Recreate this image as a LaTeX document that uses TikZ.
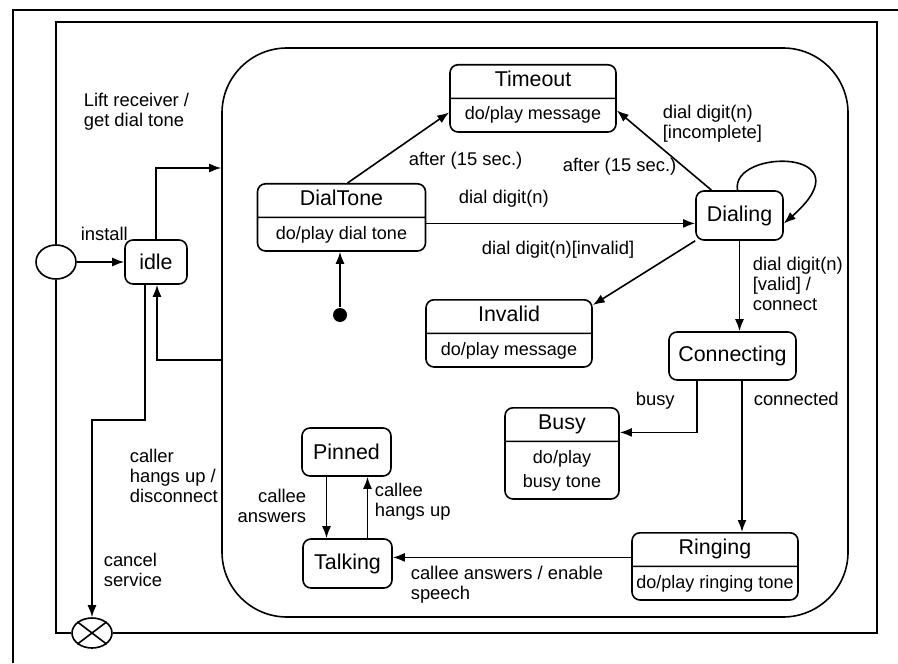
\documentclass[tikz,border=0pt]{standalone}
\usepackage{fontspec}
\setmainfont{Liberation Sans}
\usetikzlibrary{shapes.geometric,shapes.multipart,arrows.meta}
\newcommand{\stname}{\fontsize{10.7}{12}\selectfont\strut}
\newcommand{\stact}{\fontsize{9}{12}\selectfont\strut}

\begin{document}
\begin{tikzpicture}[x=0.5pt,y=-0.5pt,>={Latex[length=6pt,width=4.5pt]},line width=0.8pt]
    \tikzstyle{state}=[draw,rectangle,rounded corners=4pt,font=\fontsize{10.7}{12}\selectfont]
    \tikzstyle{split}=[draw,rectangle split,rectangle split parts=2,rounded corners=4pt,inner ysep=2pt,inner xsep=2pt]
    \tikzstyle{lbl}=[inner sep=0pt,font=\fontsize{9.2}{10}\selectfont]
    \tikzstyle{pseudo}=[draw,ellipse,fill=white,inner sep=0pt]
    \useasboundingbox (0,0) rectangle (898,663);

      % frames
      \draw (13,663) |- (898,10);
      \node (active) at (535,332.5) [draw,rectangle,rounded corners=32.5pt,minimum width=313pt,minimum height=284.5pt] {};
      \node (init) at (56,262) [pseudo,minimum width=20pt,minimum height=17pt] {};
      \node (final) at (92,633) [pseudo,minimum width=20pt,minimum height=15pt] {};
      \coordinate (corner) at (877,22);
      \draw (init.north) |- (corner) |- (final.east);
      \draw (init.south) |- (final.west);
      \draw (final.north west) -- (final.south east) (final.north east) -- (final.south west);
      \node (start) at (340,315) [circle,fill,inner sep=0pt,minimum size=7pt] {};

      % states
      \node (idle) at (156,262) [state,minimum width=31pt,minimum height=22pt] {idle};
      \node (dialing) at (739.5,215.5) [state,minimum width=43.5pt,minimum height=24.5pt] {Dialing};
      \node (connecting) at (732.5,356) [state,minimum width=63.5pt,minimum height=24pt] {Connecting};
      \node (pinned) at (346.5,452) [state,minimum width=44.5pt,minimum height=24pt] {Pinned};
      \node (talking) at (347.5,563.5) [state,minimum width=44.5pt,minimum height=24.5pt] {Talking};
      \node (timeout) at (533,64) [split,anchor=north,minimum width=83pt] {\stname Timeout \nodepart{second}\stact do/play message};
      \node (dialtone) at (341.5,183) [split,anchor=north,minimum width=84pt] {\stname DialTone \nodepart{second}\stact do/play dial tone};
      \node (invalid) at (509,299) [split,anchor=north,minimum width=83pt] {\stname Invalid \nodepart{second}\stact do/play message};
      \node (busy) at (562,407) [split,anchor=north,minimum width=57pt] {\stname Busy \nodepart{second}\stact\begin{tabular}{@{}c@{}}do/play\\busy tone\end{tabular}};
      \node (ringing) at (715,532) [split,anchor=north,minimum width=83pt] {\stname Ringing \nodepart{second}\stact do/play ringing tone};

      % transitions
      \path[->,draw] (init) -- (idle);
      \path[->,draw] (idle.north) |- (active.west |- 0,168);
      \path[->,draw] (active.west |- 0,360) -| ([xshift=0.5pt]idle.south);
      \path[->,draw] ([xshift=-5.5pt]idle.south) |- (final.north |- 0,420) -- (final.north);
      \path[->,draw] (start) -- (start |- dialtone.south);
      \path[->,draw] ([xshift=3pt]dialtone.north) -- ([yshift=-7pt]timeout.west);
      \path[->,draw] ([xshift=-14pt]dialing.north) -- ([yshift=-6pt]timeout.east);
      \path[->,draw] ([yshift=-3pt]dialtone.east) -- ([yshift=-3pt]dialtone.east -| dialing.west);
      \path[->,draw] (dialing.south west) -- ([yshift=-3pt]invalid.north east);
      \path[->,draw] ([xshift=-1pt]dialing.north) .. controls (730,148) and (870,148) .. ([yshift=-4pt]dialing.east);
      \path[->,draw] (dialing.south) -- (dialing.south |- connecting.north);
      \path[->,draw] ([xshift=-17.75pt]connecting.south) |- ([yshift=10.5pt]busy.east);
      \path[->,draw] ([xshift=4.75pt]connecting.south) -- ([xshift=4.75pt]connecting.south |- ringing.north);
      \path[->,draw] ([yshift=4.5pt]ringing.west) -- ([yshift=4.5pt]ringing.west -| talking.east);
      \path[->,draw] ([xshift=-10pt]pinned.south) -- ([xshift=-10pt]pinned.south |- talking.north);
      \path[->,draw] ([xshift=10pt]talking.north) -- ([xshift=10pt]talking.north |- pinned.south);

      % labels
      \node (lift) at (83,92) [lbl,anchor=north west,align=left] {Lift receiver /\\get dial tone};
      \node (install) at (80,241) [lbl,anchor=base west] {install};
      \node (afterdt) at (408,166) [lbl,anchor=base west] {after (15 sec.)};
      \node (afterdl) at (562,172) [lbl,anchor=base west] {after (15 sec.)};
      \node (digit) at (458,204) [lbl,anchor=base west] {dial digit(n)};
      \node (invdigit) at (481,254) [lbl,anchor=base west] {dial digit(n)[invalid]};
      \node (incomplete) at (662,104) [lbl,anchor=north west,align=left] {dial digit(n)\\{[incomplete]}};
      \node (valid) at (752,256) [lbl,anchor=north west,align=left] {dial digit(n)\\{[valid] /}\\connect};
      \node (busylbl) at (635,405) [lbl,anchor=base west] {busy};
      \node (connected) at (753,405) [lbl,anchor=base west] {connected};
      \node (hangsup) at (374,482) [lbl,anchor=north west,align=left] {callee\\hangs up};
      \node (answers) at (307,488) [lbl,anchor=north east,align=right] {callee\\answers};
      \node (enable) at (410,565) [lbl,anchor=north west,align=left] {callee answers / enable\\speech};
      \node (disconnect) at (129,448) [lbl,anchor=north west,align=left] {caller\\hangs up /\\disconnect};
      \node (cancel) at (103,552) [lbl,anchor=north west,align=left] {cancel\\service};
\end{tikzpicture}
\end{document}
